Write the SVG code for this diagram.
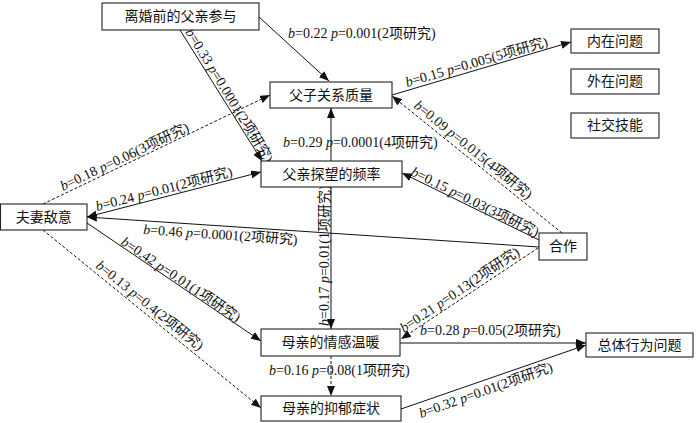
<svg xmlns="http://www.w3.org/2000/svg" width="700" height="423" viewBox="0 0 700 423">
<style>
.box{fill:#fff;stroke:#222;stroke-width:1.1}
.nt{font-family:"Liberation Serif","Noto Sans CJK SC",serif;font-size:14px;fill:#111;text-anchor:middle;dominant-baseline:central}
.lb{font-family:"Liberation Serif","Noto Sans CJK SC",serif;font-size:14px;fill:#111}
.i{font-style:italic}
.ln{fill:none;stroke:#111;stroke-width:1}
.d{stroke-dasharray:3,2}
</style>
<defs>
<marker id="ah" viewBox="0 0 10 8" refX="10" refY="4" markerWidth="10" markerHeight="8" markerUnits="userSpaceOnUse" orient="auto-start-reverse">
<path d="M0,0 L10,4 L0,8 z" fill="#111"/>
</marker>
</defs>
<g id="connectors">
<path class="ln" d="M259,17 L329,81" marker-end="url(#ah)"/>
<path class="ln" d="M180,30 L262,161" marker-end="url(#ah)"/>
<path class="ln d" d="M43,204 L270,95" marker-end="url(#ah)"/>
<path class="ln" d="M87,217 L261,172" marker-start="url(#ah)" marker-end="url(#ah)"/>
<path class="ln" d="M539,247 L87,217" marker-end="url(#ah)"/>
<path class="ln" d="M87,223 L261,341" marker-end="url(#ah)"/>
<path class="ln d" d="M43,230 L261,408" marker-end="url(#ah)"/>
<path class="ln" d="M331,161 L331,108" marker-end="url(#ah)"/>
<path class="ln" d="M331,187 L331,329" marker-end="url(#ah)"/>
<path class="ln" d="M539,240 L402,173" marker-end="url(#ah)"/>
<path class="ln d" d="M562,233 L392,96" marker-end="url(#ah)"/>
<path class="ln" d="M392,95 L571,42" marker-end="url(#ah)"/>
<path class="ln d" d="M538,248 L401,339" marker-end="url(#ah)"/>
<path class="ln" d="M400,343 L586,343" marker-end="url(#ah)"/>
<path class="ln" d="M401,409 L586,345" marker-end="url(#ah)"/>
<path class="ln d" d="M331,356 L331,396" marker-end="url(#ah)"/>
</g>
<g id="labels">
<text class="lb" x="288" y="38"><tspan class="i">b</tspan>=0.22 <tspan class="i">p</tspan>=0.001(2项研究)</text>
<text class="lb" transform="translate(185,32) rotate(58.5)"><tspan class="i">b</tspan>=0.33 <tspan class="i">p</tspan>=0.0001(2项研究)</text>
<text class="lb" transform="translate(63,191) rotate(-25.4)"><tspan class="i">b</tspan>=0.18 <tspan class="i">p</tspan>=0.06(3项研究)</text>
<text class="lb" transform="translate(97,211) rotate(-14.5)"><tspan class="i">b</tspan>=0.24 <tspan class="i">p</tspan>=0.01(2项研究)</text>
<text class="lb" transform="translate(143,234) rotate(3.9)"><tspan class="i">b</tspan>=0.46 <tspan class="i">p</tspan>=0.0001(2项研究)</text>
<text class="lb" transform="translate(120,244) rotate(34)"><tspan class="i">b</tspan>=0.42 <tspan class="i">p</tspan>=0.01(1项研究)</text>
<text class="lb" transform="translate(95,267) rotate(39)"><tspan class="i">b</tspan>=0.13 <tspan class="i">p</tspan>=0.4(2项研究)</text>
<text class="lb" x="283" y="147"><tspan class="i">b</tspan>=0.29 <tspan class="i">p</tspan>=0.0001(4项研究)</text>
<text class="lb" transform="translate(329,326) rotate(-90)"><tspan class="i">b</tspan>=0.17 <tspan class="i">p</tspan>=0.01(1项研究)</text>
<text class="lb" transform="translate(410,175) rotate(26.2)"><tspan class="i">b</tspan>=0.15 <tspan class="i">p</tspan>=0.03(3项研究)</text>
<text class="lb" transform="translate(413,107) rotate(39)"><tspan class="i">b</tspan>=0.09 <tspan class="i">p</tspan>=0.015(4项研究)</text>
<text class="lb" transform="translate(407,87) rotate(-16.2)"><tspan class="i">b</tspan>=0.15 <tspan class="i">p</tspan>=0.005(5项研究)</text>
<text class="lb" transform="translate(404,333) rotate(-34)"><tspan class="i">b</tspan>=0.21 <tspan class="i">p</tspan>=0.13(2项研究)</text>
<text class="lb" x="420" y="335"><tspan class="i">b</tspan>=0.28 <tspan class="i">p</tspan>=0.05(2项研究)</text>
<text class="lb" transform="translate(421,418) rotate(-19.5)"><tspan class="i">b</tspan>=0.32 <tspan class="i">p</tspan>=0.01(2项研究)</text>
<text class="lb" x="269" y="375"><tspan class="i">b</tspan>=0.16 <tspan class="i">p</tspan>=0.08(1项研究)</text>
</g>
<g id="n1"><rect class="box" x="102" y="3" width="157" height="27"/><text class="nt" x="180.5" y="16.5">离婚前的父亲参与</text></g>
<g id="n2"><rect class="box" x="270" y="82" width="122" height="26"/><text class="nt" x="331" y="95">父子关系质量</text></g>
<g id="n3"><rect class="box" x="571" y="29" width="88" height="24"/><text class="nt" x="615" y="41">内在问题</text></g>
<g id="n4"><rect class="box" x="571" y="69" width="88" height="25"/><text class="nt" x="615" y="81.5">外在问题</text></g>
<g id="n5"><rect class="box" x="571" y="113" width="88" height="25"/><text class="nt" x="615" y="125.5">社交技能</text></g>
<g id="n6"><rect class="box" x="261" y="161" width="141" height="26"/><text class="nt" x="331.5" y="174">父亲探望的频率</text></g>
<g id="n7"><rect class="box" x="0.5" y="204" width="86.5" height="26"/><text class="nt" x="43.7" y="217">夫妻敌意</text></g>
<g id="n8"><rect class="box" x="539" y="233" width="48" height="27"/><text class="nt" x="563" y="246.5">合作</text></g>
<g id="n9"><rect class="box" x="261" y="329" width="139" height="27"/><text class="nt" x="330.5" y="342.5">母亲的情感温暖</text></g>
<g id="n10"><rect class="box" x="261" y="396" width="140" height="25"/><text class="nt" x="331" y="408.5">母亲的抑郁症状</text></g>
<g id="n11"><rect class="box" x="586" y="333" width="107" height="24"/><text class="nt" x="639.5" y="345">总体行为问题</text></g>
</svg>
